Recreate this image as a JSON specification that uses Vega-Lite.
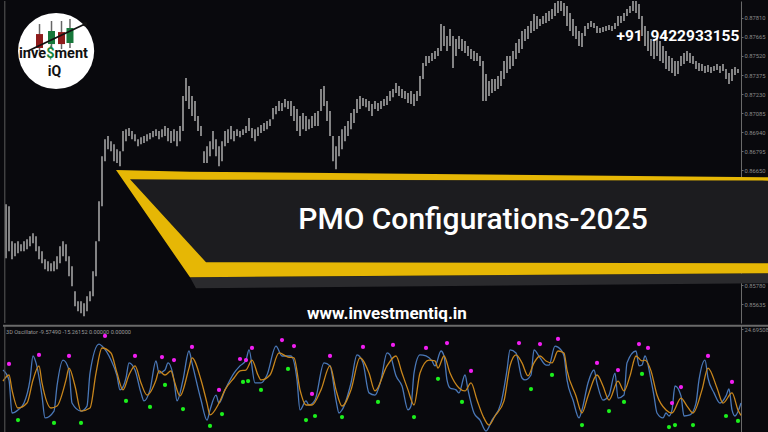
{
  "$schema": "https://vega.github.io/schema/vega-lite/v6.json",
  "background": "#09090d",
  "padding": 0,
  "spacing": 0,
  "resolve": {"scale": {"x": "independent", "y": "independent"}},
  "datasets": {
    "bars": [
      {"i":1,"h":0.86394,"l":0.85984},{"i":2,"h":0.86379,"l":0.86037},{"i":3,"h":0.86113,"l":0.85976},{"i":4,"h":0.86098,"l":0.85999},{"i":5,"h":0.86113,"l":0.86022},
      {"i":6,"h":0.86090,"l":0.86037},{"i":7,"h":0.86113,"l":0.86037},{"i":8,"h":0.86128,"l":0.86052},{"i":9,"h":0.86151,"l":0.86075},{"i":10,"h":0.86174,"l":0.86098},
      {"i":11,"h":0.86151,"l":0.86037},{"i":12,"h":0.86075,"l":0.85976},{"i":13,"h":0.86037,"l":0.85946},{"i":14,"h":0.85976,"l":0.85900},{"i":15,"h":0.85961,"l":0.85885},
      {"i":16,"h":0.85946,"l":0.85885},{"i":17,"h":0.85961,"l":0.85885},{"i":18,"h":0.85999,"l":0.85900},{"i":19,"h":0.86075,"l":0.85946},{"i":20,"h":0.86113,"l":0.85999},
      {"i":21,"h":0.86090,"l":0.85961},{"i":22,"h":0.85999,"l":0.85847},{"i":23,"h":0.85923,"l":0.85771},{"i":24,"h":0.85733,"l":0.85619},{"i":25,"h":0.85657,"l":0.85581},
      {"i":26,"h":0.85657,"l":0.85566},{"i":27,"h":0.85642,"l":0.85543},{"i":28,"h":0.85695,"l":0.85581},{"i":29,"h":0.85733,"l":0.85657},{"i":30,"h":0.85885,"l":0.85695},
      {"i":31,"h":0.86113,"l":0.85847},{"i":32,"h":0.86417,"l":0.86113},{"i":33,"h":0.86759,"l":0.86379},{"i":34,"h":0.86888,"l":0.86721},{"i":35,"h":0.86911,"l":0.86812},
      {"i":36,"h":0.86873,"l":0.86797},{"i":37,"h":0.86850,"l":0.86721},{"i":38,"h":0.86812,"l":0.86706},{"i":39,"h":0.86797,"l":0.86683},{"i":40,"h":0.86949,"l":0.86797},
      {"i":41,"h":0.86964,"l":0.86873},{"i":42,"h":0.86972,"l":0.86911},{"i":43,"h":0.86949,"l":0.86888},{"i":44,"h":0.86926,"l":0.86873},{"i":45,"h":0.86888,"l":0.86835},
      {"i":46,"h":0.86903,"l":0.86850},{"i":47,"h":0.86911,"l":0.86858},{"i":48,"h":0.86926,"l":0.86873},{"i":49,"h":0.86934,"l":0.86888},{"i":50,"h":0.86949,"l":0.86903},
      {"i":51,"h":0.86964,"l":0.86911},{"i":52,"h":0.86949,"l":0.86888},{"i":53,"h":0.86964,"l":0.86903},{"i":54,"h":0.86987,"l":0.86911},{"i":55,"h":0.86972,"l":0.86873},
      {"i":56,"h":0.86949,"l":0.86858},{"i":57,"h":0.86964,"l":0.86873},{"i":58,"h":0.86949,"l":0.86835},{"i":59,"h":0.86987,"l":0.86873},{"i":60,"h":0.87215,"l":0.86949},
      {"i":61,"h":0.87352,"l":0.87177},{"i":62,"h":0.87291,"l":0.87116},{"i":63,"h":0.87215,"l":0.87063},{"i":64,"h":0.87177,"l":0.87025},{"i":65,"h":0.87063,"l":0.86949},
      {"i":66,"h":0.86987,"l":0.86911},{"i":67,"h":0.86797,"l":0.86706},{"i":68,"h":0.86835,"l":0.86706},{"i":69,"h":0.86873,"l":0.86759},{"i":70,"h":0.86949,"l":0.86812},
      {"i":71,"h":0.86888,"l":0.86759},{"i":72,"h":0.86835,"l":0.86683},{"i":73,"h":0.86873,"l":0.86721},{"i":74,"h":0.86949,"l":0.86835},{"i":75,"h":0.86964,"l":0.86858},
      {"i":76,"h":0.86987,"l":0.86888},{"i":77,"h":0.86949,"l":0.86873},{"i":78,"h":0.86964,"l":0.86911},{"i":79,"h":0.86949,"l":0.86903},{"i":80,"h":0.86964,"l":0.86919},
      {"i":81,"h":0.86987,"l":0.86934},{"i":82,"h":0.87048,"l":0.86949},{"i":83,"h":0.86972,"l":0.86896},{"i":84,"h":0.86964,"l":0.86873},{"i":85,"h":0.86979,"l":0.86911},
      {"i":86,"h":0.86995,"l":0.86934},{"i":87,"h":0.87010,"l":0.86949},{"i":88,"h":0.87025,"l":0.86964},{"i":89,"h":0.87040,"l":0.86987},{"i":90,"h":0.87124,"l":0.87040},
      {"i":91,"h":0.87139,"l":0.87078},{"i":92,"h":0.87177,"l":0.87101},{"i":93,"h":0.87162,"l":0.87101},{"i":94,"h":0.87192,"l":0.87131},{"i":95,"h":0.87177,"l":0.87116},
      {"i":96,"h":0.87177,"l":0.87063},{"i":97,"h":0.87139,"l":0.87025},{"i":98,"h":0.87116,"l":0.86949},{"i":99,"h":0.87063,"l":0.86911},{"i":100,"h":0.87086,"l":0.86964},
      {"i":101,"h":0.87063,"l":0.86949},{"i":102,"h":0.87040,"l":0.86964},{"i":103,"h":0.87063,"l":0.86972},{"i":104,"h":0.87086,"l":0.86987},{"i":105,"h":0.87101,"l":0.86987},
      {"i":106,"h":0.87268,"l":0.87101},{"i":107,"h":0.87291,"l":0.87139},{"i":108,"h":0.87177,"l":0.87025},{"i":109,"h":0.87101,"l":0.86911},{"i":110,"h":0.86911,"l":0.86721},
      {"i":111,"h":0.86835,"l":0.86660},{"i":112,"h":0.86911,"l":0.86759},{"i":113,"h":0.86964,"l":0.86812},{"i":114,"h":0.86987,"l":0.86873},{"i":115,"h":0.87025,"l":0.86911},
      {"i":116,"h":0.87086,"l":0.86964},{"i":117,"h":0.87116,"l":0.87010},{"i":118,"h":0.87192,"l":0.87086},{"i":119,"h":0.87215,"l":0.87116},{"i":120,"h":0.87200,"l":0.87139},
      {"i":121,"h":0.87192,"l":0.87131},{"i":122,"h":0.87177,"l":0.87101},{"i":123,"h":0.87154,"l":0.87063},{"i":124,"h":0.87177,"l":0.87116},{"i":125,"h":0.87162,"l":0.87101},
      {"i":126,"h":0.87177,"l":0.87116},{"i":127,"h":0.87192,"l":0.87139},{"i":128,"h":0.87215,"l":0.87147},{"i":129,"h":0.87253,"l":0.87177},{"i":130,"h":0.87268,"l":0.87207},
      {"i":131,"h":0.87314,"l":0.87238},{"i":132,"h":0.87291,"l":0.87215},{"i":133,"h":0.87268,"l":0.87200},{"i":134,"h":0.87253,"l":0.87192},{"i":135,"h":0.87238,"l":0.87162},
      {"i":136,"h":0.87253,"l":0.87154},{"i":137,"h":0.87230,"l":0.87139},{"i":138,"h":0.87253,"l":0.87177},{"i":139,"h":0.87367,"l":0.87215},{"i":140,"h":0.87466,"l":0.87344},
      {"i":141,"h":0.87519,"l":0.87443},{"i":142,"h":0.87519,"l":0.87466},{"i":143,"h":0.87542,"l":0.87481},{"i":144,"h":0.87557,"l":0.87496},{"i":145,"h":0.87580,"l":0.87519},
      {"i":146,"h":0.87762,"l":0.87557},{"i":147,"h":0.87747,"l":0.87595},{"i":148,"h":0.87671,"l":0.87557},{"i":149,"h":0.87724,"l":0.87595},{"i":150,"h":0.87671,"l":0.87428},
      {"i":151,"h":0.87648,"l":0.87519},{"i":152,"h":0.87671,"l":0.87572},{"i":153,"h":0.87648,"l":0.87557},{"i":154,"h":0.87633,"l":0.87542},{"i":155,"h":0.87595,"l":0.87519},
      {"i":156,"h":0.87572,"l":0.87496},{"i":157,"h":0.87557,"l":0.87481},{"i":158,"h":0.87542,"l":0.87481},{"i":159,"h":0.87519,"l":0.87443},{"i":160,"h":0.87481,"l":0.87177},
      {"i":161,"h":0.87382,"l":0.87177},{"i":162,"h":0.87329,"l":0.87215},{"i":163,"h":0.87344,"l":0.87238},{"i":164,"h":0.87344,"l":0.87253},{"i":165,"h":0.87367,"l":0.87268},
      {"i":166,"h":0.87405,"l":0.87291},{"i":167,"h":0.87481,"l":0.87344},{"i":168,"h":0.87519,"l":0.87390},{"i":169,"h":0.87519,"l":0.87420},{"i":170,"h":0.87557,"l":0.87443},
      {"i":171,"h":0.87618,"l":0.87496},{"i":172,"h":0.87648,"l":0.87542},{"i":173,"h":0.87709,"l":0.87572},{"i":174,"h":0.87724,"l":0.87633},{"i":175,"h":0.87747,"l":0.87648},
      {"i":176,"h":0.87785,"l":0.87694},{"i":177,"h":0.87838,"l":0.87709},{"i":178,"h":0.87823,"l":0.87724},{"i":179,"h":0.87800,"l":0.87747},{"i":180,"h":0.87823,"l":0.87762},
      {"i":181,"h":0.87846,"l":0.87770},{"i":182,"h":0.87861,"l":0.87785},{"i":183,"h":0.87876,"l":0.87800},{"i":184,"h":0.87922,"l":0.87823},{"i":185,"h":0.87975,"l":0.87846},
      {"i":186,"h":0.87960,"l":0.87861},{"i":187,"h":0.87922,"l":0.87823},{"i":188,"h":0.87899,"l":0.87747},{"i":189,"h":0.87846,"l":0.87709},{"i":190,"h":0.87800,"l":0.87671},
      {"i":191,"h":0.87747,"l":0.87648},{"i":192,"h":0.87709,"l":0.87595},{"i":193,"h":0.87694,"l":0.87587},{"i":194,"h":0.87747,"l":0.87671},{"i":195,"h":0.87770,"l":0.87724},
      {"i":196,"h":0.87785,"l":0.87739},{"i":197,"h":0.87770,"l":0.87732},{"i":198,"h":0.87747,"l":0.87694},{"i":199,"h":0.87732,"l":0.87694},{"i":200,"h":0.87739,"l":0.87701},
      {"i":201,"h":0.87747,"l":0.87709},{"i":202,"h":0.87755,"l":0.87717},{"i":203,"h":0.87747,"l":0.87709},{"i":204,"h":0.87770,"l":0.87724},{"i":205,"h":0.87823,"l":0.87747},
      {"i":206,"h":0.87823,"l":0.87770},{"i":207,"h":0.87846,"l":0.87785},{"i":208,"h":0.87876,"l":0.87823},{"i":209,"h":0.87899,"l":0.87846},{"i":210,"h":0.87960,"l":0.87861},
      {"i":211,"h":0.87937,"l":0.87846},{"i":212,"h":0.87914,"l":0.87800},{"i":213,"h":0.87823,"l":0.87671},{"i":214,"h":0.87747,"l":0.87595},{"i":215,"h":0.87709,"l":0.87557},
      {"i":216,"h":0.87648,"l":0.87519},{"i":217,"h":0.87633,"l":0.87496},{"i":218,"h":0.87671,"l":0.87519},{"i":219,"h":0.87633,"l":0.87481},{"i":220,"h":0.87595,"l":0.87466},
      {"i":221,"h":0.87557,"l":0.87420},{"i":222,"h":0.87519,"l":0.87405},{"i":223,"h":0.87504,"l":0.87390},{"i":224,"h":0.87481,"l":0.87367},{"i":225,"h":0.87481,"l":0.87382},
      {"i":226,"h":0.87519,"l":0.87443},{"i":227,"h":0.87542,"l":0.87458},{"i":228,"h":0.87557,"l":0.87481},{"i":229,"h":0.87542,"l":0.87466},{"i":230,"h":0.87519,"l":0.87458},
      {"i":231,"h":0.87481,"l":0.87420},{"i":232,"h":0.87466,"l":0.87405},{"i":233,"h":0.87458,"l":0.87405},{"i":234,"h":0.87443,"l":0.87390},{"i":235,"h":0.87451,"l":0.87398},
      {"i":236,"h":0.87435,"l":0.87390},{"i":237,"h":0.87443,"l":0.87405},{"i":238,"h":0.87458,"l":0.87413},{"i":239,"h":0.87443,"l":0.87390},{"i":240,"h":0.87458,"l":0.87405},
      {"i":241,"h":0.87420,"l":0.87344},{"i":242,"h":0.87390,"l":0.87306},{"i":243,"h":0.87420,"l":0.87329},{"i":244,"h":0.87435,"l":0.87375},{"i":245,"h":0.87420,"l":0.87390}
    ],
    "logoCandles": [
      {"i":12.17,"hi":0.87762,"lo":0.87557,"top":0.87686,"bot":0.87580,"c":"down"},
      {"i":16.17,"hi":0.87785,"lo":0.87572,"top":0.87709,"bot":0.87610,"c":"up"},
      {"i":19.5,"hi":0.87785,"lo":0.87572,"top":0.87701,"bot":0.87610,"c":"down"},
      {"i":22.33,"hi":0.87800,"lo":0.87580,"top":0.87732,"bot":0.87618,"c":"up"}
    ],
    "logoArrow": [{"i":8.33,"p":0.87557},{"i":27.33,"p":0.87762}],
    "bannerShadow": [{"i":62.33,"t":0.85839,"b":0.85839},{"i":64.33,"t":0.85839,"b":0.85756},{"i":256,"t":0.85870,"b":0.85794}],
    "bannerOuter": [{"i":37.67,"t":0.86653,"b":0.86653},{"i":62.33,"t":0.86641,"b":0.85839},{"i":256,"t":0.86599,"b":0.85870}],
    "bannerInner": [{"i":42.33,"t":0.86584,"b":0.86584},{"i":67.67,"t":0.86580,"b":0.85953},{"i":256,"t":0.86573,"b":0.85946}],
    "main": [
      {"i":0,"v":5.7},{"i":2,"v":1.1},{"i":3,"v":-14.2},{"i":5,"v":-12.8},{"i":7,"v":-9.6},{"i":9,"v":1.1},{"i":10,"v":12.2},{"i":11,"v":9.0},{"i":13,"v":-6.3},{"i":14,"v":-16.5},
      {"i":17,"v":-13.3},{"i":18,"v":-1.7},{"i":20,"v":10.3},{"i":22,"v":5.7},{"i":23,"v":-9.6},{"i":26,"v":-13.3},{"i":28,"v":-11.0},{"i":29,"v":4.3},{"i":32,"v":17.7},{"i":33,"v":16.8},
      {"i":36,"v":10.3},{"i":38,"v":3.0},{"i":39,"v":-3.5},{"i":41,"v":2.0},{"i":42,"v":9.0},{"i":44,"v":5.7},{"i":46,"v":-4.9},{"i":47,"v":-8.6},{"i":49,"v":-3.5},{"i":51,"v":9.9},
      {"i":52,"v":4.3},{"i":54,"v":5.7},{"i":55,"v":9.0},{"i":57,"v":1.1},{"i":58,"v":-8.6},{"i":60,"v":1.1},{"i":62,"v":14.5},{"i":63,"v":9.0},{"i":66,"v":-8.2},{"i":68,"v":-17.5},
      {"i":69,"v":-12.8},{"i":71,"v":-5.9},{"i":72,"v":-9.6},{"i":74,"v":-3.5},{"i":77,"v":4.3},{"i":79,"v":7.6},{"i":81,"v":10.3},{"i":82,"v":15.0},{"i":84,"v":-0.3},{"i":86,"v":-0.3},
      {"i":88,"v":3.4},{"i":91,"v":16.8},{"i":93,"v":12.2},{"i":96,"v":12.2},{"i":98,"v":1.1},{"i":99,"v":-12.8},{"i":101,"v":-8.6},{"i":102,"v":-10.5},{"i":104,"v":-8.2},{"i":107,"v":9.0},
      {"i":109,"v":7.6},{"i":111,"v":-8.2},{"i":112,"v":-14.2},{"i":113,"v":-12.8},{"i":116,"v":-0.3},{"i":118,"v":12.7},{"i":120,"v":9.0},{"i":122,"v":-4.9},{"i":124,"v":-5.9},{"i":126,"v":1.1},
      {"i":128,"v":13.6},{"i":129,"v":12.7},{"i":131,"v":3.0},{"i":133,"v":-1.7},{"i":135,"v":-12.8},{"i":136,"v":-11.0},{"i":137,"v":4.3},{"i":139,"v":12.7},{"i":141,"v":12.2},{"i":143,"v":9.9},
      {"i":144,"v":7.6},{"i":146,"v":14.5},{"i":147,"v":12.2},{"i":148,"v":1.1},{"i":149,"v":-2.6},{"i":151,"v":-3.5},{"i":152,"v":-4.9},{"i":154,"v":3.4},{"i":155,"v":-3.5},{"i":157,"v":-14.2},
      {"i":159,"v":-17.5},{"i":161,"v":-22.6},{"i":163,"v":-17.5},{"i":166,"v":-9.6},{"i":168,"v":5.7},{"i":169,"v":15.0},{"i":171,"v":13.6},{"i":173,"v":2.0},{"i":174,"v":1.1},{"i":176,"v":3.4},
      {"i":177,"v":15.0},{"i":179,"v":11.3},{"i":181,"v":8.0},{"i":182,"v":8.0},{"i":184,"v":16.8},{"i":186,"v":15.0},{"i":187,"v":12.2},{"i":188,"v":1.1},{"i":190,"v":-8.2},{"i":192,"v":-16.5},
      {"i":193,"v":-12.8},{"i":195,"v":-0.3},{"i":197,"v":5.7},{"i":198,"v":-0.3},{"i":200,"v":-8.2},{"i":202,"v":-5.9},{"i":204,"v":4.3},{"i":205,"v":-7.3},{"i":207,"v":-5.9},{"i":208,"v":9.0},
      {"i":211,"v":14.5},{"i":212,"v":7.6},{"i":213,"v":8.0},{"i":214,"v":12.2},{"i":216,"v":1.1},{"i":217,"v":-6.3},{"i":218,"v":-14.2},{"i":220,"v":-16.5},{"i":221,"v":-14.2},{"i":222,"v":-15.6},
      {"i":223,"v":-12.8},{"i":224,"v":-1.7},{"i":226,"v":-6.3},{"i":227,"v":-15.6},{"i":229,"v":-15.1},{"i":231,"v":-9.6},{"i":232,"v":1.1},{"i":234,"v":10.3},{"i":235,"v":2.0},{"i":237,"v":-4.9},
      {"i":239,"v":-9.6},{"i":241,"v":-6.3},{"i":242,"v":-3.1},{"i":243,"v":-12.8},{"i":244,"v":-15.6},{"i":246,"v":-9.6}
    ],
    "signal": [
      {"i":0,"v":0.6},{"i":2,"v":3.4},{"i":3,"v":-3.5},{"i":5,"v":-11.9},{"i":8,"v":-9.6},{"i":10,"v":1.1},{"i":12,"v":7.6},{"i":13,"v":-0.3},{"i":16,"v":-11.9},{"i":18,"v":-11.0},
      {"i":21,"v":1.1},{"i":22,"v":6.6},{"i":24,"v":-1.7},{"i":26,"v":-13.3},{"i":29,"v":-11.9},{"i":31,"v":4.3},{"i":33,"v":15.9},{"i":36,"v":13.6},{"i":38,"v":4.3},{"i":40,"v":-3.5},
      {"i":42,"v":3.4},{"i":44,"v":7.6},{"i":46,"v":-0.3},{"i":48,"v":-5.9},{"i":51,"v":1.1},{"i":52,"v":5.3},{"i":54,"v":3.4},{"i":56,"v":5.3},{"i":57,"v":1.1},{"i":59,"v":-6.3},
      {"i":62,"v":6.6},{"i":63,"v":11.3},{"i":66,"v":1.1},{"i":68,"v":-9.6},{"i":69,"v":-15.1},{"i":72,"v":-9.6},{"i":74,"v":-3.5},{"i":77,"v":2.0},{"i":79,"v":5.3},{"i":81,"v":5.7},
      {"i":83,"v":10.3},{"i":85,"v":3.4},{"i":86,"v":1.1},{"i":89,"v":3.4},{"i":92,"v":13.6},{"i":95,"v":11.7},{"i":97,"v":11.3},{"i":99,"v":-3.5},{"i":101,"v":-10.5},{"i":103,"v":-10.5},
      {"i":106,"v":-3.5},{"i":109,"v":7.6},{"i":111,"v":-3.5},{"i":113,"v":-11.0},{"i":116,"v":-3.5},{"i":119,"v":11.3},{"i":122,"v":4.3},{"i":124,"v":-4.0},{"i":128,"v":7.6},{"i":131,"v":12.2},
      {"i":133,"v":4.3},{"i":135,"v":-3.5},{"i":137,"v":-10.5},{"i":139,"v":4.3},{"i":142,"v":10.3},{"i":144,"v":9.9},{"i":145,"v":6.6},{"i":147,"v":12.2},{"i":149,"v":4.3},{"i":152,"v":-2.6},
      {"i":154,"v":-4.0},{"i":156,"v":-0.3},{"i":158,"v":-8.2},{"i":160,"v":-15.6},{"i":162,"v":-19.8},{"i":164,"v":-15.6},{"i":167,"v":-8.6},{"i":169,"v":7.6},{"i":171,"v":12.7},{"i":173,"v":9.0},
      {"i":175,"v":3.0},{"i":177,"v":9.0},{"i":179,"v":12.2},{"i":181,"v":9.9},{"i":183,"v":9.0},{"i":185,"v":14.5},{"i":187,"v":13.6},{"i":188,"v":5.7},{"i":191,"v":-6.3},{"i":193,"v":-14.2},
      {"i":195,"v":-6.3},{"i":198,"v":3.4},{"i":200,"v":-1.7},{"i":202,"v":-8.2},{"i":205,"v":0.6},{"i":207,"v":-4.0},{"i":209,"v":3.0},{"i":211,"v":12.2},{"i":213,"v":9.9},{"i":214,"v":10.3},
      {"i":216,"v":5.3},{"i":218,"v":-5.9},{"i":221,"v":-12.8},{"i":223,"v":-14.2},{"i":226,"v":-7.3},{"i":228,"v":-11.0},{"i":230,"v":-14.2},{"i":233,"v":-3.5},{"i":235,"v":6.6},{"i":238,"v":-2.6},
      {"i":240,"v":-9.6},{"i":243,"v":-4.9},{"i":245,"v":-12.8},{"i":246,"v":-15.3}
    ],
    "upDots": [
      {"i":2,"v":8.5},{"i":12,"v":12.7},{"i":22,"v":12.2},{"i":34,"v":21.5},{"i":44,"v":12.2},{"i":53,"v":11.7},{"i":57,"v":10.3},{"i":63,"v":16.4},{"i":72,"v":-3.5},{"i":79,"v":10.8},
      {"i":81,"v":10.3},{"i":83,"v":15.9},{"i":93,"v":19.6},{"i":97,"v":16.8},{"i":103,"v":-5.4},{"i":109,"v":12.2},{"i":120,"v":16.4},{"i":130,"v":17.3},{"i":141,"v":15.9},{"i":148,"v":18.2},
      {"i":156,"v":5.3},{"i":172,"v":18.2},{"i":179,"v":17.7},{"i":185,"v":20.1},{"i":198,"v":9.0},{"i":205,"v":5.7},{"i":212,"v":17.7},{"i":215,"v":15.9},{"i":223,"v":-9.6},{"i":226,"v":-2.2},
      {"i":235,"v":12.2},{"i":243,"v":0.2}
    ],
    "downDots": [
      {"i":5,"v":-17.5},{"i":17,"v":-18.8},{"i":26,"v":-18.8},{"i":41,"v":-8.6},{"i":49,"v":-11.4},{"i":54,"v":-1.2},{"i":60,"v":-12.4},{"i":69,"v":-20.2},{"i":73,"v":-14.7},{"i":80,"v":0.2},
      {"i":81.7,"v":0.6},{"i":86,"v":-3.5},{"i":95,"v":6.2},{"i":101,"v":-17.5},{"i":104,"v":-15.6},{"i":113,"v":-16.1},{"i":125,"v":-9.1},{"i":137,"v":-16.1},{"i":145,"v":1.6},{"i":153,"v":-9.1},
      {"i":176,"v":-3.1},{"i":183,"v":3.4},{"i":193,"v":-19.8},{"i":202,"v":-13.3},{"i":207,"v":-9.1},{"i":213,"v":3.9},{"i":222,"v":-20.7},{"i":224,"v":-19.8},{"i":230,"v":-19.8},{"i":241,"v":-15.6},
      {"i":245,"v":-17.9}
    ],
    "one": [{"k": 1}]
  },
  "vconcat": [
    {
      "width": 738,
      "height": 322,
      "resolve": {"axis": {"x": "independent", "y": "independent"}},
      "layer": [
        {
          "data": {"name": "bars"},
          "mark": {"type": "rule", "color": "#c6c6c6", "strokeWidth": 1.3, "clip": true},
          "encoding": {
            "x": {"field": "i", "type": "quantitative", "axis": null, "scale": {"domain": [0, 246], "nice": false, "zero": false}},
            "y": {"field": "h", "type": "quantitative", "title": null,
                  "scale": {"domain": [0.85492, 0.87937], "nice": false, "zero": false},
                  "axis": {"orient": "right", "format": ".5f",
                           "values": [0.85635, 0.8578, 0.85925, 0.8607, 0.86215, 0.8636, 0.86505, 0.8665, 0.86795, 0.8694, 0.87085, 0.8723, 0.87375, 0.8752, 0.87665, 0.8781]}},
            "y2": {"field": "l"}
          }
        },
        {
          "data": {"name": "one"},
          "mark": {"type": "rule", "color": "#5a5a5a", "strokeWidth": 1},
          "encoding": {"x": {"datum": 0.6, "type": "quantitative", "axis": null}}
        },
        {
          "data": {"values": [{"i": 17.7, "p": 0.87557}]},
          "mark": {"type": "point", "shape": "circle", "filled": true, "color": "#ffffff", "opacity": 1, "size": 5800},
          "encoding": {
            "x": {"field": "i", "type": "quantitative", "axis": null},
            "y": {"field": "p", "type": "quantitative", "axis": null}
          }
        },
        {
          "data": {"name": "logoCandles"},
          "mark": {"type": "rule", "color": "#666666", "strokeWidth": 1.5},
          "encoding": {
            "x": {"field": "i", "type": "quantitative", "axis": null},
            "y": {"field": "hi", "type": "quantitative", "axis": null},
            "y2": {"field": "lo"}
          }
        },
        {
          "data": {"name": "logoCandles"},
          "mark": {"type": "rule", "strokeWidth": 7, "strokeCap": "butt"},
          "encoding": {
            "x": {"field": "i", "type": "quantitative", "axis": null},
            "y": {"field": "top", "type": "quantitative", "axis": null},
            "y2": {"field": "bot"},
            "color": {"field": "c", "type": "nominal", "legend": null, "scale": {"domain": ["down", "up"], "range": ["#8e1b1b", "#17773a"]}}
          }
        },
        {
          "data": {"name": "logoArrow"},
          "mark": {"type": "line", "color": "#111111", "strokeWidth": 1.8},
          "encoding": {
            "x": {"field": "i", "type": "quantitative", "axis": null},
            "y": {"field": "p", "type": "quantitative", "axis": null}
          }
        },
        {
          "data": {"values": [{"i": 27.33, "p": 0.87762}]},
          "mark": {"type": "point", "shape": "circle", "filled": true, "color": "#111111", "opacity": 1, "size": 22},
          "encoding": {
            "x": {"field": "i", "type": "quantitative", "axis": null},
            "y": {"field": "p", "type": "quantitative", "axis": null}
          }
        },
        {
          "data": {"values": [{"i": 14.33, "p": 0.87501, "t": "inve"}]},
          "mark": {"type": "text", "font": "Roboto", "fontSize": 14.5, "fontWeight": "bold", "color": "#111111", "align": "right", "baseline": "alphabetic"},
          "encoding": {
            "x": {"field": "i", "type": "quantitative", "axis": null},
            "y": {"field": "p", "type": "quantitative", "axis": null},
            "text": {"field": "t"}
          }
        },
        {
          "data": {"values": [{"i": 15.77, "p": 0.87501, "t": "$"}]},
          "mark": {"type": "text", "font": "Roboto", "fontSize": 14.5, "fontWeight": "bold", "color": "#17873e", "align": "center", "baseline": "alphabetic"},
          "encoding": {
            "x": {"field": "i", "type": "quantitative", "axis": null},
            "y": {"field": "p", "type": "quantitative", "axis": null},
            "text": {"field": "t"}
          }
        },
        {
          "data": {"values": [{"i": 17.17, "p": 0.87501, "t": "ment"}]},
          "mark": {"type": "text", "font": "Roboto", "fontSize": 14.5, "fontWeight": "bold", "color": "#111111", "align": "left", "baseline": "alphabetic"},
          "encoding": {
            "x": {"field": "i", "type": "quantitative", "axis": null},
            "y": {"field": "p", "type": "quantitative", "axis": null},
            "text": {"field": "t"}
          }
        },
        {
          "data": {"values": [{"i": 17.17, "p": 0.87366, "t": "iQ"}]},
          "mark": {"type": "text", "font": "Roboto", "fontSize": 14, "fontWeight": "bold", "color": "#111111", "align": "center", "baseline": "alphabetic"},
          "encoding": {
            "x": {"field": "i", "type": "quantitative", "axis": null},
            "y": {"field": "p", "type": "quantitative", "axis": null},
            "text": {"field": "t"}
          }
        },
        {
          "data": {"values": [{"i": 204.5, "p": 0.87633, "t": "+91\u00a0 9422933155"}]},
          "mark": {"type": "text", "font": "Roboto", "fontSize": 15.5, "fontWeight": "bold", "color": "#ffffff", "align": "left", "baseline": "alphabetic"},
          "encoding": {
            "x": {"field": "i", "type": "quantitative", "axis": null},
            "y": {"field": "p", "type": "quantitative", "axis": null},
            "text": {"field": "t"}
          }
        },
        {
          "data": {"name": "bannerShadow"},
          "mark": {"type": "area", "color": "#2a2a2d", "opacity": 1, "clip": false},
          "encoding": {
            "x": {"field": "i", "type": "quantitative", "axis": null},
            "y": {"field": "t", "type": "quantitative", "axis": null},
            "y2": {"field": "b"}
          }
        },
        {
          "data": {"name": "bannerOuter"},
          "mark": {"type": "area", "color": "#e6b705", "opacity": 1, "clip": false},
          "encoding": {
            "x": {"field": "i", "type": "quantitative", "axis": null},
            "y": {"field": "t", "type": "quantitative", "axis": null},
            "y2": {"field": "b"}
          }
        },
        {
          "data": {"name": "bannerInner"},
          "mark": {"type": "area", "color": "#1c1c1f", "opacity": 1, "clip": false},
          "encoding": {
            "x": {"field": "i", "type": "quantitative", "axis": null},
            "y": {"field": "t", "type": "quantitative", "axis": null},
            "y2": {"field": "b"}
          }
        },
        {
          "data": {"values": [{"i": 156.67, "p": 0.86204, "t": "PMO Configurations-2025"}]},
          "mark": {"type": "text", "font": "Roboto", "fontSize": 30, "fontWeight": 500, "color": "#ffffff", "align": "center", "baseline": "alphabetic"},
          "encoding": {
            "x": {"field": "i", "type": "quantitative", "axis": null},
            "y": {"field": "p", "type": "quantitative", "axis": null},
            "text": {"field": "t"}
          }
        },
        {
          "data": {"values": [{"i": 128, "p": 0.8552, "t": "www.investmentiq.in"}]},
          "mark": {"type": "text", "font": "Roboto", "fontSize": 17, "fontWeight": "bold", "color": "#ffffff", "align": "center", "baseline": "alphabetic"},
          "encoding": {
            "x": {"field": "i", "type": "quantitative", "axis": null},
            "y": {"field": "p", "type": "quantitative", "axis": null},
            "text": {"field": "t"}
          }
        }
      ]
    },
    {
      "width": 738,
      "height": 110,
      "resolve": {"axis": {"x": "independent", "y": "independent"}},
      "layer": [
        {
          "data": {"name": "main"},
          "mark": {"type": "line", "color": "#4a78b8", "strokeWidth": 1.3, "interpolate": "monotone"},
          "encoding": {
            "x": {"field": "i", "type": "quantitative", "axis": null, "scale": {"domain": [0, 246], "nice": false, "zero": false}},
            "y": {"field": "v", "type": "quantitative", "title": null,
                  "scale": {"domain": [-24.4, 26.55], "nice": false, "zero": false},
                  "axis": {"orient": "right", "format": ".5f", "values": [24.69508]}}
          }
        },
        {
          "data": {"name": "signal"},
          "mark": {"type": "line", "color": "#c8861c", "strokeWidth": 1.3, "interpolate": "monotone"},
          "encoding": {
            "x": {"field": "i", "type": "quantitative", "axis": null},
            "y": {"field": "v", "type": "quantitative", "axis": null}
          }
        },
        {
          "data": {"name": "upDots"},
          "mark": {"type": "point", "shape": "circle", "filled": true, "color": "#f21ef2", "opacity": 1, "size": 18},
          "encoding": {
            "x": {"field": "i", "type": "quantitative", "axis": null},
            "y": {"field": "v", "type": "quantitative", "axis": null}
          }
        },
        {
          "data": {"name": "downDots"},
          "mark": {"type": "point", "shape": "circle", "filled": true, "color": "#1cf01c", "opacity": 1, "size": 18},
          "encoding": {
            "x": {"field": "i", "type": "quantitative", "axis": null},
            "y": {"field": "v", "type": "quantitative", "axis": null}
          }
        },
        {
          "data": {"name": "one"},
          "mark": {"type": "rule", "color": "#5a5a5a", "strokeWidth": 1},
          "encoding": {"x": {"datum": 0.6, "type": "quantitative", "axis": null}}
        },
        {
          "data": {"name": "one"},
          "mark": {"type": "rule", "color": "#6a6a6a", "strokeWidth": 2, "clip": false},
          "encoding": {
            "y": {"datum": 26.2, "type": "quantitative", "axis": null},
            "x": {"datum": 0, "type": "quantitative", "axis": null},
            "x2": {"datum": 256}
          }
        },
        {
          "data": {"values": [{"i": 1, "v": 23.3, "t": "3D Oscillator -9.57490 -15.26152 0.00000 0.00000"}]},
          "mark": {"type": "text", "font": "Roboto", "fontSize": 5.6, "color": "#9a9a9a", "align": "left", "baseline": "middle"},
          "encoding": {
            "x": {"field": "i", "type": "quantitative", "axis": null},
            "y": {"field": "v", "type": "quantitative", "axis": null},
            "text": {"field": "t"}
          }
        }
      ]
    }
  ],
  "config": {
    "view": {"stroke": null},
    "axis": {"labelFont": "Roboto", "labelFontSize": 5.8, "labelColor": "#8a8a8a", "tickColor": "#6a6a6a", "domainColor": "#6a6a6a", "tickSize": 2, "labelPadding": 1, "grid": false}
  }
}
